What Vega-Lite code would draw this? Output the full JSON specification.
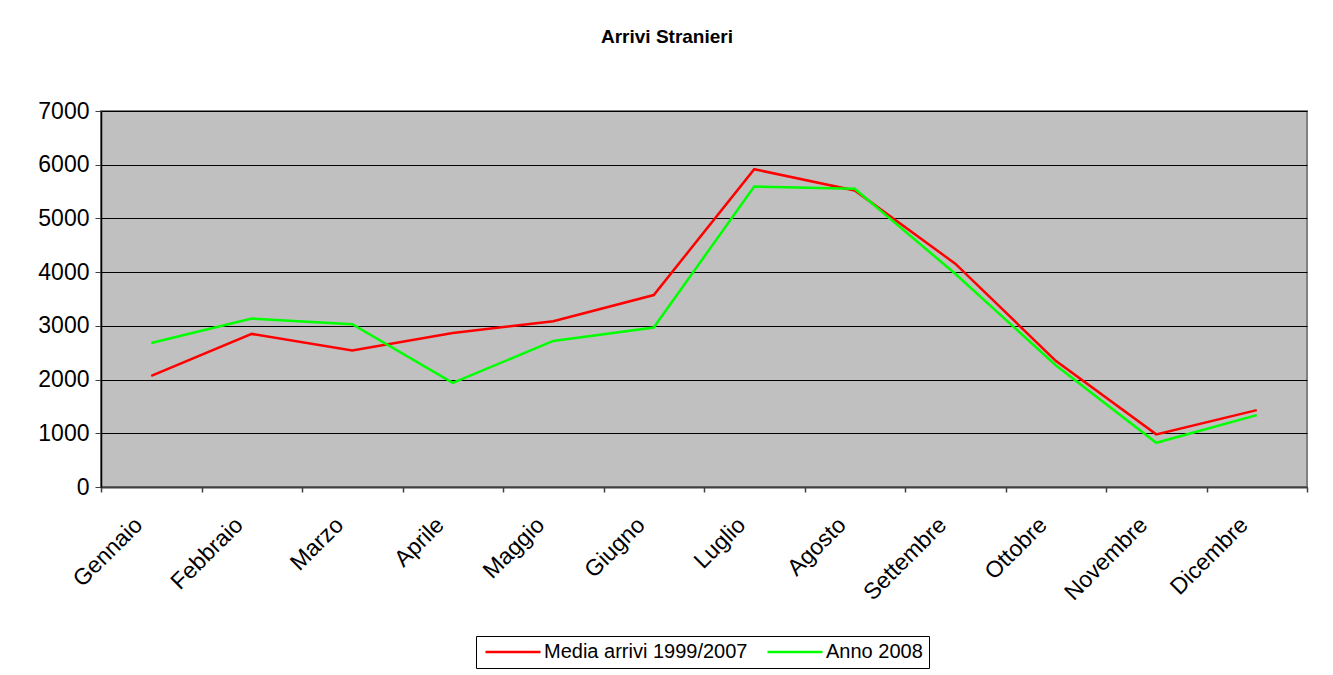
{
  "$schema": "https://vega.github.io/schema/vega-lite/v6.json",
  "width": 1206,
  "height": 376,
  "autosize": {"type": "none"},
  "padding": {"left": 101, "top": 111, "right": 26, "bottom": 188},
  "background": "white",
  "title": {
    "text": "Arrivi Stranieri",
    "font": "Liberation Sans",
    "fontSize": 19,
    "fontWeight": "bold",
    "color": "black",
    "anchor": "middle",
    "offset": 53,
    "dx": -37
  },
  "data": {
    "values": [
      {"mese": "Gennaio", "serie": "Media arrivi 1999/2007", "arrivi": 2069},
      {"mese": "Febbraio", "serie": "Media arrivi 1999/2007", "arrivi": 2850},
      {"mese": "Marzo", "serie": "Media arrivi 1999/2007", "arrivi": 2541},
      {"mese": "Aprile", "serie": "Media arrivi 1999/2007", "arrivi": 2868},
      {"mese": "Maggio", "serie": "Media arrivi 1999/2007", "arrivi": 3085},
      {"mese": "Giugno", "serie": "Media arrivi 1999/2007", "arrivi": 3574},
      {"mese": "Luglio", "serie": "Media arrivi 1999/2007", "arrivi": 5916},
      {"mese": "Agosto", "serie": "Media arrivi 1999/2007", "arrivi": 5520},
      {"mese": "Settembre", "serie": "Media arrivi 1999/2007", "arrivi": 4158},
      {"mese": "Ottobre", "serie": "Media arrivi 1999/2007", "arrivi": 2348},
      {"mese": "Novembre", "serie": "Media arrivi 1999/2007", "arrivi": 980},
      {"mese": "Dicembre", "serie": "Media arrivi 1999/2007", "arrivi": 1431},
      {"mese": "Gennaio", "serie": "Anno 2008", "arrivi": 2682},
      {"mese": "Febbraio", "serie": "Anno 2008", "arrivi": 3136},
      {"mese": "Marzo", "serie": "Anno 2008", "arrivi": 3030},
      {"mese": "Aprile", "serie": "Anno 2008", "arrivi": 1939},
      {"mese": "Maggio", "serie": "Anno 2008", "arrivi": 2719},
      {"mese": "Giugno", "serie": "Anno 2008", "arrivi": 2968},
      {"mese": "Luglio", "serie": "Anno 2008", "arrivi": 5595},
      {"mese": "Agosto", "serie": "Anno 2008", "arrivi": 5552},
      {"mese": "Settembre", "serie": "Anno 2008", "arrivi": 3970},
      {"mese": "Ottobre", "serie": "Anno 2008", "arrivi": 2268},
      {"mese": "Novembre", "serie": "Anno 2008", "arrivi": 823},
      {"mese": "Dicembre", "serie": "Anno 2008", "arrivi": 1338}
    ]
  },
  "mark": {"type": "line", "strokeWidth": 2.5},
  "encoding": {
    "x": {
      "field": "mese",
      "type": "nominal",
      "sort": null,
      "scale": {"type": "band", "paddingInner": 0, "paddingOuter": 0},
      "axis": {
        "title": null,
        "tickBand": "extent",
        "labelAngle": -45,
        "labelAlign": "right",
        "labelBaseline": "middle",
        "labelFont": "Liberation Sans",
        "labelFontSize": 23,
        "labelColor": "black",
        "labelPadding": 29,
        "labelOffset": -13,
        "labelLimit": 0,
        "tickColor": "#404040",
        "tickWidth": 1.5,
        "tickSize": 5,
        "domainColor": "#404040",
        "domainWidth": 2,
        "grid": false
      }
    },
    "y": {
      "field": "arrivi",
      "type": "quantitative",
      "scale": {"domain": [0, 7000], "nice": false},
      "axis": {
        "title": null,
        "format": "d",
        "values": [0, 1000, 2000, 3000, 4000, 5000, 6000, 7000],
        "labelFont": "Liberation Sans",
        "labelFontSize": 23,
        "labelColor": "black",
        "labelPadding": 6,
        "tickColor": "#404040",
        "tickSize": 6,
        "domainColor": "black",
        "domainWidth": 1.5,
        "grid": true,
        "gridColor": "black",
        "gridOpacity": 1,
        "gridWidth": 1
      }
    },
    "color": {
      "field": "serie",
      "type": "nominal",
      "scale": {
        "domain": ["Media arrivi 1999/2007", "Anno 2008"],
        "range": ["#FF0000", "#00FF00"]
      },
      "legend": {
        "title": null,
        "orient": "none",
        "legendX": 375,
        "legendY": 525,
        "direction": "horizontal",
        "symbolType": "M-4,0H4",
        "symbolSize": 189,
        "symbolOffset": 21,
        "symbolStrokeWidth": 2.5,
        "labelFont": "Liberation Sans",
        "labelFontSize": 20,
        "labelColor": "black",
        "labelOffset": 21,
        "labelLimit": 0,
        "columnPadding": 14,
        "strokeColor": "black",
        "fillColor": "white",
        "padding": 6
      }
    }
  },
  "config": {
    "view": {"fill": "#C0C0C0", "stroke": "#808080", "strokeWidth": 2}
  }
}
